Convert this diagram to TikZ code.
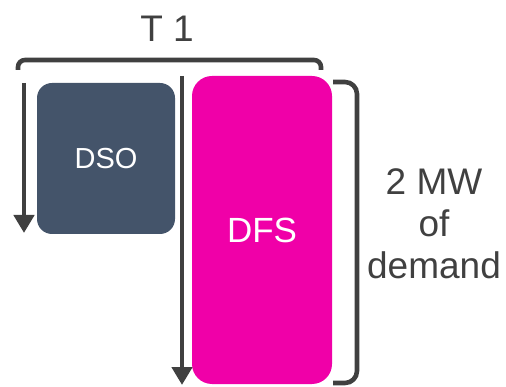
\documentclass[tikz,border=0pt]{standalone}
\usepackage{fontspec}
\setmainfont{Liberation Sans}
\usetikzlibrary{arrows.meta}
\definecolor{slate}{HTML}{44546A}
\definecolor{magenta}{HTML}{F000A8}
\definecolor{ink}{HTML}{404040}
\tikzset{
  brace/.style={draw=ink, line width=4.6pt, rounded corners=7pt},
  timeline/.style={draw=ink, line width=4.6pt, -{Triangle[width=20pt,length=18pt]}},
  lbl/.style={text=ink, font=\fontsize{37}{42}\selectfont, align=center},
}
\begin{document}
\begin{tikzpicture}[x=1pt,y=-1pt]
\useasboundingbox (0,0) rectangle (506,387);
% blocks
\fill[slate, rounded corners=15pt] (37,83) rectangle (175,234);
\node[text=white, font=\fontsize{29}{34}\selectfont] (dso) at (106,159) {DSO};
\fill[magenta, rounded corners=20pt] (192,76) rectangle (332,384);
\node[text=white, font=\fontsize{35}{40}\selectfont] (dfs) at (262,230) {DFS};
% time arrows
\coordinate (a1s) at (24,83);
\coordinate (a1e) at (24,233);
\draw[timeline] (a1s) -- (a1e);
\coordinate (a2s) at (182,76);
\coordinate (a2e) at (182,385);
\draw[timeline] (a2s) -- (a2e);
% top brace
\coordinate (t1) at (18,70);
\coordinate (t2) at (321,70);
\draw[brace] (t1) -- (18,60) -- (321,60) -- (t2);
\node[lbl] (tlabel) at (167,29) {T 1};
% right brace
\coordinate (r1) at (333,82);
\coordinate (r2) at (333,383);
\draw[brace, rounded corners=12pt] (r1) -- (357,82) -- (357,383) -- (r2);
\node[lbl] (mw) at (434,224) {2 MW\\of\\demand};
\end{tikzpicture}
\end{document}
